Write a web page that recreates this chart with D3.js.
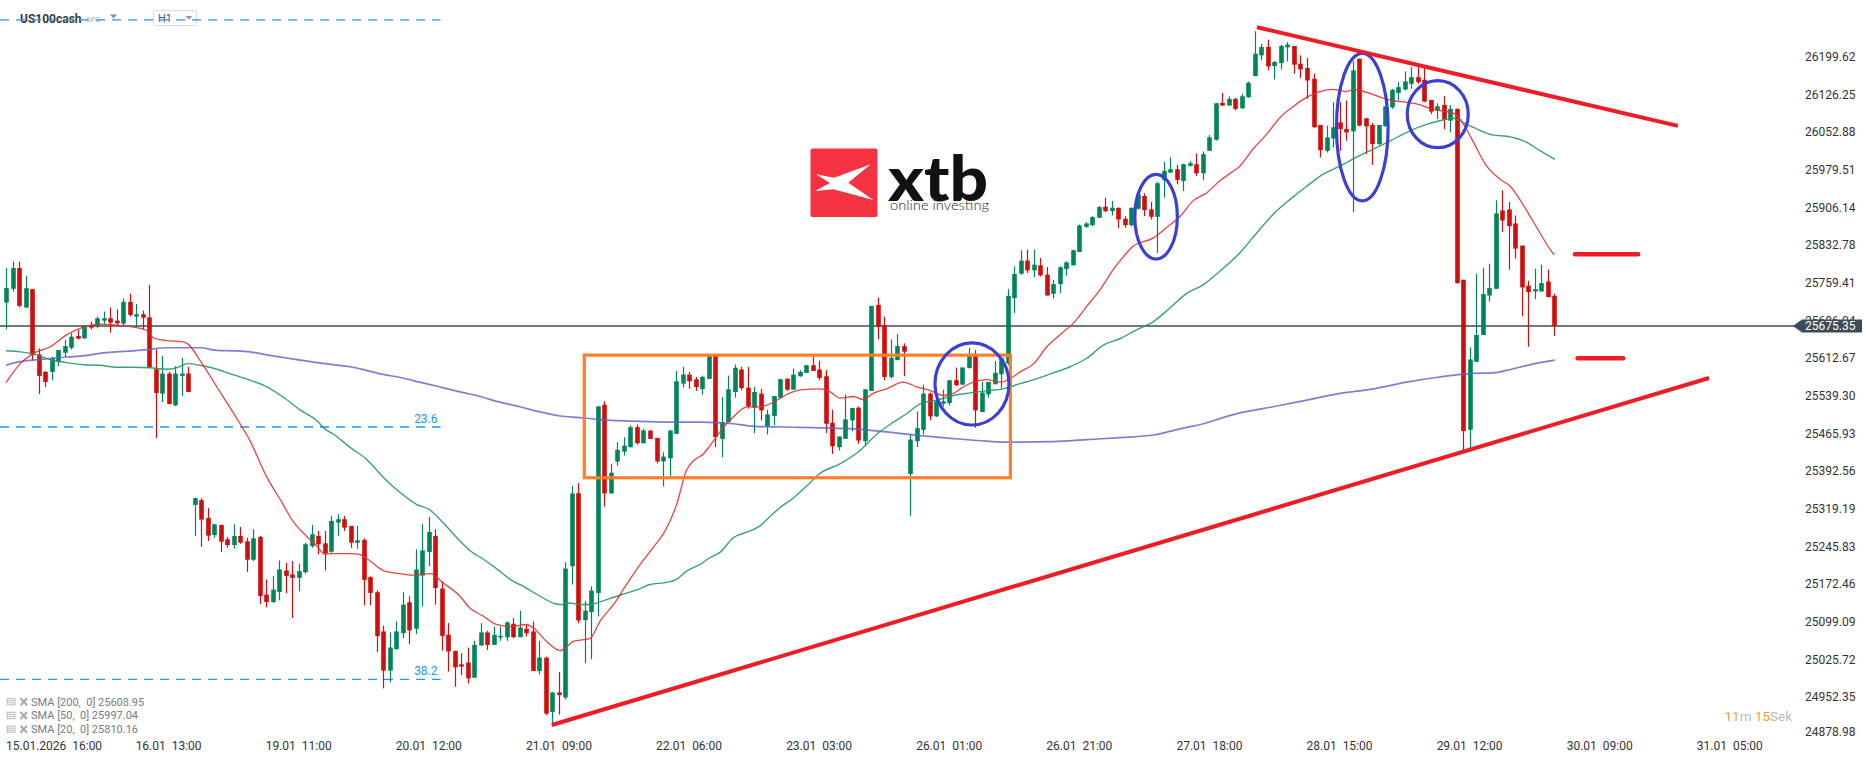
<!DOCTYPE html>
<html><head><meta charset="utf-8">
<script src="https://cdn.jsdelivr.net/npm/d3@7"></script>
<style>
html,body{margin:0;padding:0;background:#fff;overflow:hidden;}
svg{display:block;font-family:Roboto,"Noto Sans",sans-serif;}
</style></head>
<body>
<svg id="chart" width="1866" height="761"></svg>
<script>
// ---------- DATA ----------
const opens=[25721.0,25747.8,25788.2,25711.2,25747.1,25619.9,25586.0,25586.0,25605.6,25623.2,
25633.0,25655.8,25651.2,25675.4,25674.1,25685.8,25690.4,25685.8,25679.9,25722.3,
25693.6,25698.2,25692.3,25591.2,25543.6,25582.7,25520.8,25578.2,25582.7,25327.0,
25336.2,25301.6,25268.3,25287.9,25259.9,25248.8,25266.4,25255.9,25220.1,25264.4,
25152.2,25137.9,25157.4,25199.2,25191.4,25184.8,25195.9,25246.8,25266.4,25252.0,
25235.7,25292.5,25299.0,25286.0,25253.3,25258.5,25186.1,25156.8,25080.5,25004.2,
25045.9,25077.2,25137.2,25085.7,25189.3,25235.0,25266.3,25163.9,25073.9,25042.6,
25016.5,25019.8,24990.4,25053.0,25078.5,25054.3,25068.7,25069.3,25095.4,25069.3,
25085.6,25080.4,25003.4,25029.5,24923.9,24961.7,24951.9,25207.6,25349.8,25102.6,
25118.2,25155.4,25522.0,25349.2,25411.1,25430.7,25439.2,25478.3,25447.0,25471.8,
25457.5,25411.8,25417.7,25465.3,25563.1,25580.7,25571.6,25552.7,25572.3,25618.6,
25455.5,25488.1,25546.8,25590.5,25555.3,25516.2,25543.5,25480.3,25499.8,25535.7,
25572.9,25551.4,25577.5,25584.0,25599.0,25590.5,25577.5,25486.9,25439.3,25455.6,
25491.4,25516.2,25451.0,25548.8,25716.5,25677.3,25576.2,25608.9,25636.2,25387.1,
25451.0,25473.2,25543.6,25499.3,25524.1,25525.4,25569.7,25561.2,25593.8,25617.3,
25507.8,25542.3,25561.9,25581.5,25602.3,25729.5,25777.2,25802.6,25783.7,25793.5,
25775.2,25738.0,25756.9,25786.3,25793.5,25819.5,25868.5,25871.7,25886.1,25907.6,
25899.1,25905.6,25884.1,25871.7,25903.7,25928.5,25902.4,25888.0,25959.8,25974.1,
25980.7,25957.8,25987.2,25990.4,25972.8,26016.5,26038.1,26109.8,26104.6,26117.6,
26099.4,26120.9,26162.0,26202.4,26218.8,26181.6,26187.4,26218.1,26220.7,26186.1,
26177.7,26156.8,26066.8,26016.5,26040.7,26072.0,26059.0,26054.4,26195.9,26079.8,
26066.8,26029.6,26064.2,26101.3,26129.4,26135.9,26147.0,26160.0,26154.8,26115.7,
26094.8,26105.9,26075.3,26098.1,25765.4,25473.2,25605.6,25657.8,25734.7,25747.8,
25900.4,25902.4,25875.0,25831.9,25753.7,25742.6,25742.6,25762.1,25734.1];
const highs=[25788.2,25800.6,25800.6,25773.2,25747.1,25631.7,25588.0,25615.4,25628.4,25648.0,
25661.0,25667.5,25677.3,25683.9,25693.6,25703.4,25711.2,25708.0,25728.9,25738.0,
25718.4,25705.4,25755.6,25629.7,25616.7,25586.0,25597.1,25613.4,25595.8,25341.4,
25340.1,25320.5,25289.2,25287.9,25264.4,25289.2,25284.0,25263.1,25279.4,25266.4,
25181.6,25188.1,25218.8,25214.2,25217.5,25212.2,25253.3,25287.9,25276.2,25276.2,
25305.5,25308.8,25305.5,25286.0,25286.0,25261.8,25188.1,25160.7,25091.5,25078.5,
25100.0,25156.8,25149.0,25240.3,25289.2,25303.5,25279.4,25178.3,25096.7,25042.6,
25038.0,25049.1,25062.1,25096.7,25081.7,25090.2,25090.2,25100.0,25106.5,25120.8,
25093.5,25100.0,25062.1,25031.5,24961.7,25001.6,25215.4,25364.2,25369.4,25139.1,
25168.5,25518.8,25528.6,25406.6,25449.0,25458.8,25481.6,25483.5,25475.0,25471.8,
25457.5,25429.4,25473.1,25587.9,25595.7,25585.9,25576.2,25578.8,25618.6,25618.6,
25537.0,25578.8,25600.3,25595.7,25595.7,25556.6,25553.3,25512.2,25539.0,25572.9,
25572.9,25592.5,25589.2,25599.0,25616.6,25607.5,25589.3,25512.3,25460.1,25542.3,
25515.6,25518.8,25552.1,25714.5,25730.8,25693.7,25649.3,25659.7,25641.5,25465.3,
25509.0,25561.2,25545.6,25531.9,25551.4,25569.7,25594.5,25594.5,25633.0,25628.4,
25566.4,25566.4,25606.9,25613.4,25747.1,25791.5,25822.8,25824.1,25824.1,25807.8,
25790.2,25765.4,25791.5,25801.3,25824.1,25873.0,25877.6,25889.3,25908.9,25925.2,
25918.7,25905.6,25889.3,25905.6,25933.7,25933.7,25916.7,25955.9,25995.0,26003.5,
25989.1,25991.7,25997.0,26011.3,26015.2,26047.2,26109.2,26129.4,26122.9,26119.6,
26127.4,26151.6,26249.4,26225.3,26233.1,26191.4,26223.3,26228.5,26220.7,26202.4,
26197.2,26166.6,26066.8,26065.5,26111.1,26111.1,26114.4,26190.7,26195.9,26079.8,
26070.7,26066.8,26103.3,26137.2,26150.3,26171.1,26179.6,26181.6,26177.7,26115.7,
26109.2,26122.9,26105.9,26099.4,25765.4,25633.6,25777.2,25788.2,25796.7,25920.0,
25939.6,25916.7,25890.6,25831.9,25763.5,25786.9,25794.8,25785.0,25738.0];
const lows=[25668.8,25742.6,25711.9,25711.2,25608.8,25543.0,25556.6,25569.7,25597.1,25615.4,
25629.7,25649.3,25651.2,25668.8,25670.8,25679.3,25662.3,25675.4,25675.4,25693.6,
25672.8,25667.5,25594.5,25456.8,25527.3,25522.7,25519.5,25539.0,25546.9,25266.4,
25245.5,25256.6,25263.1,25235.1,25243.5,25241.6,25251.4,25196.6,25217.5,25134.0,
25127.4,25135.9,25141.1,25154.8,25106.6,25158.7,25192.7,25243.5,25230.5,25199.2,
25233.8,25266.4,25276.2,25243.5,25241.6,25131.4,25131.4,25040.0,24969.6,24981.3,
25045.9,25067.4,25055.7,25075.2,25129.3,25207.6,25132.6,25043.2,25002.1,24972.8,
24995.6,24979.3,24990.4,25053.0,25044.5,25054.3,25062.1,25062.1,25067.4,25069.3,
25070.6,25003.4,24996.9,24917.3,24901.0,24918.6,24948.0,25171.7,25096.7,25018.5,
25026.3,25109.8,25323.7,25349.2,25403.3,25422.9,25439.2,25444.4,25447.0,25455.5,
25407.9,25362.9,25382.4,25465.3,25555.3,25553.3,25548.8,25541.6,25572.3,25439.2,
25419.6,25488.1,25535.7,25550.1,25514.2,25466.6,25491.4,25464.0,25481.6,25533.8,
25548.8,25551.4,25576.2,25584.0,25587.9,25569.6,25466.7,25426.2,25432.7,25455.6,
25470.6,25445.8,25442.5,25548.8,25649.3,25569.7,25573.0,25608.9,25577.5,25305.5,
25439.3,25464.1,25491.4,25498.0,25518.8,25520.8,25558.0,25561.2,25592.5,25477.1,
25507.8,25535.8,25561.9,25553.4,25599.1,25700.2,25775.2,25778.5,25770.6,25771.9,
25734.7,25729.5,25739.3,25773.2,25793.5,25819.5,25866.5,25869.8,25886.1,25897.2,
25890.6,25866.5,25866.5,25869.8,25902.4,25889.3,25882.8,25817.6,25925.2,25974.1,
25951.3,25938.3,25985.9,25967.6,25959.8,26016.5,26036.1,26104.6,26104.6,26094.8,
26098.1,26119.6,26162.0,26192.7,26173.1,26155.5,26175.1,26190.7,26166.6,26158.1,
26117.6,26062.2,26003.5,26013.3,26023.1,26016.5,26036.1,25897.2,26064.2,26010.0,
25989.1,26027.6,26064.2,26098.1,26114.4,26134.0,26137.2,26147.0,26111.1,26088.3,
26078.5,26058.9,26052.4,25757.6,25432.7,25436.0,25605.6,25657.8,25723.0,25747.8,
25858.7,25785.0,25806.5,25695.0,25635.0,25727.6,25742.6,25731.5,25655.8];
const closes=[25749.1,25788.2,25714.5,25749.1,25618.6,25578.2,25566.4,25612.1,25628.4,25636.2,
25654.5,25650.6,25677.3,25672.1,25690.4,25690.4,25681.9,25680.6,25722.3,25696.9,
25698.2,25691.7,25594.5,25544.9,25582.7,25523.4,25582.7,25582.7,25546.9,25340.1,
25298.3,25267.0,25289.2,25255.3,25248.8,25266.4,25253.3,25220.1,25261.8,25149.6,
25137.9,25162.0,25201.1,25188.7,25184.8,25197.9,25250.1,25269.6,25250.1,25232.5,
25295.7,25299.0,25282.7,25253.3,25257.9,25181.0,25155.5,25071.3,25004.2,25049.2,
25080.5,25132.7,25082.4,25201.1,25238.3,25274.2,25165.2,25071.9,25041.3,25010.6,
25011.9,24989.1,25054.3,25078.5,25054.3,25073.9,25071.9,25098.0,25069.3,25088.2,
25077.2,25003.4,25029.5,24920.6,24961.7,24956.5,25203.0,25349.2,25101.9,25120.8,
25160.0,25518.8,25349.2,25389.6,25434.0,25442.4,25478.3,25447.0,25471.8,25455.5,
25411.8,25420.9,25471.8,25567.7,25580.7,25567.7,25556.6,25576.2,25618.6,25458.8,
25488.1,25552.0,25593.8,25554.6,25518.8,25546.8,25510.9,25503.1,25539.0,25571.6,
25551.4,25580.7,25585.9,25599.0,25587.9,25574.2,25485.0,25441.2,25460.1,25493.4,
25515.6,25452.3,25552.1,25714.5,25674.1,25576.2,25613.4,25636.2,25625.2,25454.2,
25476.4,25543.6,25499.3,25528.6,25528.6,25569.7,25559.9,25594.5,25617.3,25511.0,
25545.6,25566.4,25584.1,25613.4,25734.1,25776.5,25802.6,25783.7,25794.8,25773.9,
25734.7,25756.9,25789.6,25799.3,25822.8,25871.1,25875.0,25887.4,25906.9,25899.1,
25905.6,25882.8,25871.7,25905.6,25931.7,25901.1,25888.0,25953.3,25977.4,25980.7,
25959.8,25990.4,25992.4,25972.8,26010.0,26042.6,26109.2,26104.6,26117.6,26098.1,
26122.9,26149.0,26205.7,26218.8,26180.9,26189.4,26220.7,26223.3,26184.2,26175.1,
26153.5,26062.2,26017.8,26042.6,26062.2,26059.0,26052.4,26173.1,26065.5,26064.2,
26029.6,26066.8,26103.3,26135.3,26140.5,26151.6,26160.0,26150.3,26112.4,26092.9,
26103.3,26077.2,26098.1,25758.9,25470.6,25610.2,25657.8,25737.4,25749.1,25894.6,
25880.9,25869.8,25826.1,25750.4,25741.3,25747.1,25758.9,25731.5,25675.35];

// SMA readings: [candle index, value]
const sma20=[[0,25565],[2.2,25602],[4.2,25622],[6.8,25635],[9.3,25658],[11.9,25673],[14.4,25679],[17,25677],[19.6,25673],[21.4,25668],[22.9,25651],[24.7,25647],[27,25645],[28,25640],[29.8,25609],[32.4,25557],[35,25505],[37.5,25452],[40.1,25381],[42.6,25328],[43.9,25299],[46.2,25266],[47.8,25247],[49,25231],[50.3,25232],[52.9,25232],[54.2,25231],[55.4,25223],[58,25199],[59.3,25195],[60.6,25193],[62.6,25190],[65.2,25193],[67.2,25175],[69.8,25149],[71.3,25126],[73.4,25110],[75.4,25094],[77.5,25090],[80,25094],[81.1,25087],[83.1,25061],[85.2,25043],[86.2,25051],[87.2,25061],[89.8,25067],[91.3,25100],[93.4,25133],[95.4,25172],[97.5,25211],[99.5,25244],[101.6,25283],[103.1,25328],[104.6,25394],[105.7,25413],[107.2,25426],[108.2,25442],[110.3,25478],[111.8,25498],[113.9,25518],[115.9,25518],[118,25527],[120,25542],[122.1,25551],[125.1,25553],[126.7,25547],[128.2,25535],[130.3,25538],[131.8,25532],[133.3,25544],[135.4,25553],[137.9,25566],[140,25557],[142,25550],[144.1,25540],[145.6,25544],[147.2,25557],[148.7,25566],[150.8,25571],[152.8,25566],[154.4,25573],[155.9,25586],[158,25602],[160,25635],[162,25658],[164.1,25681],[166.1,25713],[168.2,25746],[170.2,25785],[172.3,25818],[173.3,25831],[176.4,25847],[178.4,25867],[180.5,25889],[182.5,25919],[184.6,25935],[186.6,25958],[188.7,25977],[189.7,25987],[191.7,26020],[193.8,26049],[195.9,26082],[197.9,26103],[200,26121],[202,26132],[204,26136],[205.1,26134],[206.1,26132],[207.1,26136],[208.1,26134],[210.2,26126],[211.7,26119],[213.3,26114],[215.3,26111],[217.4,26106],[218.9,26099],[220.4,26095],[222.5,26090],[223.5,26079],[224.5,26059],[225.6,26033],[227.6,25987],[229.7,25961],[231.2,25948],[232.7,25922],[234.3,25889],[235.8,25857],[237.4,25824],[238,25814]];
const sma50=[[0,25627],[2.2,25625],[4.2,25621],[6.8,25610],[9.3,25604],[11.9,25600],[14.4,25599],[17,25595],[19.6,25595],[22.1,25594],[24.7,25591],[26.2,25594],[28,25602],[29.8,25599],[31.9,25593],[35,25580],[37.5,25570],[40.1,25557],[42.6,25537],[45.2,25512],[47.8,25491],[49,25475],[50.3,25465],[52.9,25439],[55.4,25416],[58,25381],[60.6,25351],[63.1,25328],[65.2,25317],[67.2,25292],[69.3,25263],[71.3,25238],[73.4,25221],[75.9,25198],[77.5,25182],[80,25165],[82.1,25149],[84.6,25134],[85.6,25133],[86.7,25136],[88.2,25133],[89.8,25133],[91.3,25138],[93.4,25147],[95.4,25155],[97.5,25164],[99,25172],[101.6,25176],[103.1,25182],[104.6,25198],[106.7,25211],[108.2,25224],[109.8,25235],[111.8,25263],[113.9,25274],[115.9,25286],[117,25299],[119,25322],[121.1,25341],[123.1,25364],[125.1,25388],[128.2,25407],[131.3,25433],[133.9,25465],[136.4,25488],[138.5,25505],[140.6,25524],[143.1,25531],[145.6,25540],[148.2,25545],[150.8,25549],[153.3,25553],[155.9,25563],[158.5,25573],[161,25584],[163.6,25596],[166.1,25612],[168.7,25638],[171.3,25651],[173.8,25668],[176.4,25684],[178.9,25710],[181.5,25739],[184.1,25756],[186.6,25782],[189.7,25818],[192.3,25857],[194.8,25893],[197.4,25922],[200,25948],[202.5,25971],[205.1,25987],[207.6,26004],[210.2,26020],[212.8,26036],[215.3,26052],[217.9,26066],[220.4,26075],[222.5,26080],[223.5,26075],[225.6,26062],[228.7,26047],[230.7,26045],[233.3,26036],[235.8,26017],[238.1,26000]];
const sma200=[[0,25599],[2.2,25606],[4.2,25609],[6.8,25612],[9.3,25615],[11.9,25617],[14.4,25622],[17,25625],[19.6,25627],[22.1,25630],[24.7,25633],[27.3,25633],[29.8,25633],[32.4,25628],[35,25627],[37.5,25625],[40.1,25619],[42.6,25614],[45.2,25609],[47.8,25604],[50.3,25600],[52.9,25596],[55.4,25589],[58,25581],[60.6,25575],[63.6,25566],[66.6,25557],[69.8,25547],[72.9,25538],[75.9,25527],[79,25518],[82.1,25508],[85.2,25500],[88.2,25497],[91.3,25493],[96.4,25490],[101.6,25488],[106.7,25488],[111.8,25485],[114.9,25480],[122.1,25478],[125.1,25477],[130.3,25475],[135.4,25469],[140.6,25462],[145.6,25456],[150.8,25451],[154.9,25449],[161,25450],[166.1,25454],[171.3,25458],[176.4,25463],[181.5,25478],[184.1,25485],[186.6,25495],[189.7,25506],[194.8,25518],[200,25531],[205.1,25544],[210.2,25553],[215.3,25566],[220.4,25576],[225.6,25583],[228.7,25584],[230.7,25589],[233.3,25597],[235.8,25604],[238.1,25609]];

const xTickIdx=[5,25,45,65,85,105,125,145,165,185,205,225,245,265];
const xTickLabels=["15.01.2026  16:00","16.01  13:00","19.01  11:00","20.01  12:00","21.01  09:00","22.01  06:00","23.01  03:00","26.01  01:00","26.01  21:00","27.01  18:00","28.01  15:00","29.01  12:00","30.01  09:00","31.01  05:00"];
const yTickLabels=["26199.62","26126.25","26052.88","25979.51","25906.14","25832.78","25759.41","25686.04","25612.67","25539.30","25465.93","25392.56","25319.19","25245.83","25172.46","25099.09","25025.72","24952.35","24878.98"];
const lastPrice=25675.35;
const legendLines=["SMA [200,  0] 25608.95","SMA [50,  0] 25997.04","SMA [20,  0] 25810.16"];
// fibonacci levels (price) and their labels
const fibLevels=[26271.4,25478.6,24987.2];
const fibLabels=["","23.6","38.2"];
// drawn annotations, in candle-index / price coordinates
const rangeBox=[88.9,154.4,25618.6,25379.8];           // x0, x1, top, bottom
const ellipses=[[148.5,25562.4,5.69,79.9],[176.8,25888.2,3.27,82.4],[208.5,26062.6,3.97,143.7],[220.1,26087.9,4.69,65.3]]; // cx, cy, rx, ry
const trendLines=[[192.3,26257.2,257.0,26065.0],[83.9,24898.2,261.8,25574.1]];
const levelMarks=[[241.2,250.9,25815.0],[241.6,248.6,25612.4]];

// ---------- DRAW ----------
const svg=d3.select("#chart");
const x=d3.scaleLinear().domain([0,270]).range([6,6+270*6.505]);
const y=d3.scaleLinear().domain([24878.98,26199.62]).range([734.9,56.8]);
const UP="#00855a", DOWN="#d40c0c";
const FIB="#2196f3";

// logo
const logo=svg.append("g");
logo.append("rect").attr("x",810.5).attr("y",148.5).attr("width",67).attr("height",68.5).attr("rx",2).attr("fill","#f53241");
logo.append("path").attr("d","M816,174.3 L834,177.7 L870.7,164.3 L848.3,182.7 L873.3,200 L833.3,189.3 L815,191 L830,183 Z").attr("fill","#fff");
logo.append("text").attr("x",888).attr("y",200.5).attr("font-family","Lato, Roboto, sans-serif").attr("font-weight",900)
  .attr("font-size",63).attr("fill","#111").attr("textLength",100).attr("lengthAdjust","spacingAndGlyphs").text("xtb");
logo.append("text").attr("x",890).attr("y",210).attr("font-family","Lato, Roboto, sans-serif").attr("font-weight",300)
  .attr("font-size",13.5).attr("fill","#222").attr("textLength",99).attr("lengthAdjust","spacingAndGlyphs").text("online investing");

// header
const hdr=svg.append("g");
hdr.append("text").attr("x",20).attr("y",22.5).attr("font-weight","bold").attr("font-size",12).attr("fill","#3a3a3a").text("US100cash");
hdr.append("text").attr("x",86).attr("y",22).attr("font-size",7.5).attr("fill","#aaa").text("CFD");
hdr.append("path").attr("d","M110,14.5 L117,14.5 L113.5,18.5 Z").attr("fill","#8a8a8a");
hdr.append("rect").attr("x",153.5).attr("y",10.5).attr("width",43).attr("height",15).attr("rx",2).attr("fill","#fff").attr("stroke","#dcdcdc");
hdr.append("text").attr("x",158).attr("y",22).attr("font-size",11).attr("fill","#555").text("H1");
hdr.append("path").attr("d","M185.5,16 L192.5,16 L189,19.5 Z").attr("fill","#999");

// fibonacci dashed levels
fibLevels.forEach((lv,k)=>{
  svg.append("line").attr("x1",0).attr("x2",x(66.8)).attr("y1",y(lv)).attr("y2",y(lv))
    .attr("stroke",FIB).attr("stroke-width",1.3).attr("stroke-dasharray","9,7");
  if(fibLabels[k]) svg.append("text").attr("x",x(66.8)-3).attr("y",y(lv)-4.5).attr("text-anchor","end")
    .attr("font-size",12).attr("fill",FIB).text(fibLabels[k]);
});

// current price line
svg.append("line").attr("x1",0).attr("x2",1795).attr("y1",y(lastPrice)).attr("y2",y(lastPrice))
  .attr("stroke","#3e4b57").attr("stroke-width",1.4);

// candles
const idx=d3.range(opens.length);
const cg=svg.append("g");
const cx=i=>Math.round(x(i))+0.5;
cg.selectAll("line").data(idx).join("line")
  .attr("x1",cx).attr("x2",cx)
  .attr("y1",i=>y(Math.max(highs[i],opens[i],closes[i]))).attr("y2",i=>y(Math.min(lows[i],opens[i],closes[i])))
  .attr("stroke",i=>closes[i]>=opens[i]?UP:DOWN).attr("stroke-width",1.2);
cg.selectAll("rect").data(idx).join("rect")
  .attr("x",i=>cx(i)-2.3).attr("width",4.6)
  .attr("y",i=>y(Math.max(opens[i],closes[i])))
  .attr("height",i=>Math.max(1.2,Math.abs(y(opens[i])-y(closes[i]))))
  .attr("fill",i=>closes[i]>=opens[i]?UP:DOWN);

// SMAs
const line=d3.line().x(d=>x(d[0])).y(d=>y(d[1])).curve(d3.curveMonotoneX);
svg.append("path").attr("d",line(sma200)).attr("fill","none").attr("stroke","#5b60c2").attr("stroke-opacity",0.8).attr("stroke-width",1.7);
svg.append("path").attr("d",line(sma50)).attr("fill","none").attr("stroke","#25976a").attr("stroke-opacity",0.9).attr("stroke-width",1.4);
svg.append("path").attr("d",line(sma20)).attr("fill","none").attr("stroke","#e3302c").attr("stroke-opacity",0.9).attr("stroke-width",1.3);

// annotations
const ann=svg.append("g");
ann.append("rect").attr("x",x(rangeBox[0])).attr("y",y(rangeBox[2]))
  .attr("width",x(rangeBox[1])-x(rangeBox[0])).attr("height",y(rangeBox[3])-y(rangeBox[2]))
  .attr("fill","none").attr("stroke","#ff7f27").attr("stroke-width",3.2);
ellipses.forEach(e=>{
  ann.append("ellipse").attr("cx",x(e[0])).attr("cy",y(e[1]))
    .attr("rx",x(e[0]+e[2])-x(e[0])).attr("ry",y(e[1]-e[3])-y(e[1]))
    .attr("fill","none").attr("stroke","#3b3fd3").attr("stroke-width",3.2);
});
trendLines.forEach(t=>{
  ann.append("line").attr("x1",x(t[0])).attr("y1",y(t[1])).attr("x2",x(t[2])).attr("y2",y(t[3]))
    .attr("stroke","#ee1c25").attr("stroke-width",4);
});
levelMarks.forEach(m=>{
  ann.append("line").attr("x1",x(m[0])).attr("x2",x(m[1])).attr("y1",y(m[2])).attr("y2",y(m[2]))
    .attr("stroke","#ee1c25").attr("stroke-width",4.5).attr("stroke-linecap","round");
});

// y axis labels (the one under the price tag stays partly hidden, as in the original)
yTickLabels.forEach(t=>{
  svg.append("text").attr("x",1805).attr("y",Math.min(y(+t),731.5)).attr("dy","0.35em")
    .attr("font-size",12).attr("fill","#333").text(t);
});
// price tag
svg.append("path").attr("d",`M1793,${y(lastPrice)} L1802,${y(lastPrice)-6.5} L1862,${y(lastPrice)-6.5} L1862,${y(lastPrice)+6.5} L1802,${y(lastPrice)+6.5} Z`).attr("fill","#3e4b57");
svg.append("text").attr("x",1805).attr("y",y(lastPrice)).attr("dy","0.35em").attr("font-size",12).attr("fill","#fff").text(lastPrice.toFixed(2));

// x axis labels (first one is kept inside the left edge)
xTickIdx.forEach((ti,k)=>{
  const t=svg.append("text").attr("y",749.5).attr("font-size",12)
    .attr("fill","#333").style("white-space","pre").text(xTickLabels[k]);
  const w=t.node().getComputedTextLength();
  const left=Math.max(6,x(ti)-w/2);
  t.attr("x",left);
});

// legend
legendLines.forEach((t,k)=>{
  const cy=701.7+k*13.8;
  const g=svg.append("g");
  g.append("rect").attr("x",6.5).attr("y",cy-3.8).attr("width",9).attr("height",7.6).attr("fill","#c9c9c9");
  [cy-2,cy,cy+2].forEach(yy=>g.append("line").attr("x1",8).attr("x2",14).attr("y1",yy).attr("y2",yy).attr("stroke","#fff").attr("stroke-width",0.8));
  g.append("path").attr("d",`M20.5,${cy-3.5} L27,${cy+3.5} M27,${cy-3.5} L20.5,${cy+3.5}`).attr("stroke","#a9a9a9").attr("stroke-width",2);
  g.append("text").attr("x",31).attr("y",cy).attr("dy","0.35em").attr("font-size",11).attr("fill","#7a7a7a").style("white-space","pre").text(t);
});

// timer
const tm=svg.append("text").attr("x",1724.5).attr("y",720.7).attr("font-size",13.5);
tm.append("tspan").attr("fill","#f5a21d").text("11");
tm.append("tspan").attr("fill","#b9b9b9").text("m ");
tm.append("tspan").attr("fill","#f5a21d").text("15");
tm.append("tspan").attr("fill","#b9b9b9").text("Sek");
</script>
</body></html>
